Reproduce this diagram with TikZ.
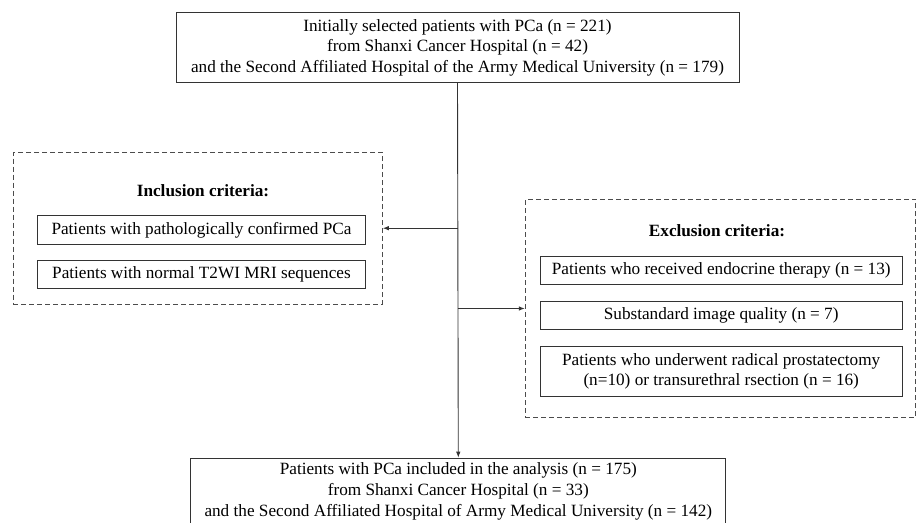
\documentclass[tikz,border=0pt]{standalone}
\usepackage{fontspec}
\setmainfont{Liberation Serif}
\usepackage{tikz}
\usetikzlibrary{arrows.meta,positioning,calc}

\begin{document}
\begin{tikzpicture}[x=1pt,y=-1pt,font=\fontsize{17.2}{20.8}\selectfont,
  box/.style={draw=black!80,line width=0.9pt,align=center,inner sep=0pt},
  group/.style={draw=black!70,line width=0.9pt,dash pattern=on 5pt off 3pt,inner sep=0pt},
  title/.style={font=\fontsize{17.2}{20.8}\selectfont\bfseries},
  edge/.style={draw=black!80,line width=0.9pt,-{Latex[length=6pt,width=4.5pt]}}]
\useasboundingbox (0,0) rectangle (918,522);

% source and result
\node(top)[box,minimum width=563pt,minimum height=70pt] at (457.5,47.7)
  {Initially selected patients with PCa (n = 221)\\
   from Shanxi Cancer Hospital (n = 42)\\
   and the Second Affiliated Hospital of the Army Medical University (n = 179)};
\node(final)[box,anchor=north,minimum width=535pt,inner ysep=4.5pt,text depth=20pt] at (458.3,457.7)
  {Patients with PCa included in the analysis (n = 175)\\
   from Shanxi Cancer Hospital (n = 33)\\
   and the Second Affiliated Hospital of Army Medical University (n = 142)};

% inclusion
\node(incl)[group,minimum width=369pt,minimum height=151.7pt] at (197.8,228.2) {};
\node(incltitle)[title] at (203,190.7) {Inclusion criteria:};
\node(incl1)[box,minimum width=328.4pt,minimum height=28.3pt] at (201.5,229.8)
  {Patients with pathologically confirmed PCa};
\node(incl2)[box,minimum width=328.4pt,minimum height=27.6pt] at (201.5,274.5)
  {Patients with normal T2WI MRI sequences};

% exclusion
\node(excl)[group,minimum width=390.4pt,minimum height=218.4pt] at (720.5,308.5) {};
\node(excltitle)[title] at (717,230.7) {Exclusion criteria:};
\node(excl1)[box,minimum width=362.3pt,minimum height=27.6pt] at (721.2,270.5)
  {Patients who received endocrine therapy (n = 13)};
\node(excl2)[box,minimum width=362.3pt,minimum height=28pt] at (721.2,315.7)
  {Substandard image quality (n = 7)};
\node(excl3)[box,minimum width=362.3pt,minimum height=49.3pt] at (721.2,371.3)
  {Patients who underwent radical prostatectomy\\
   (n=10) or transurethral rsection (n = 16)};

\coordinate(toincl) at (top.south |- incl.east);
\coordinate(toexcl) at (top.south |- excl.west);

\draw [edge] (top.south) to (final.north);
\draw [edge] (toincl) to (incl.east);
\draw [edge] (toexcl) to (excl.west);
\end{tikzpicture}
\end{document}
